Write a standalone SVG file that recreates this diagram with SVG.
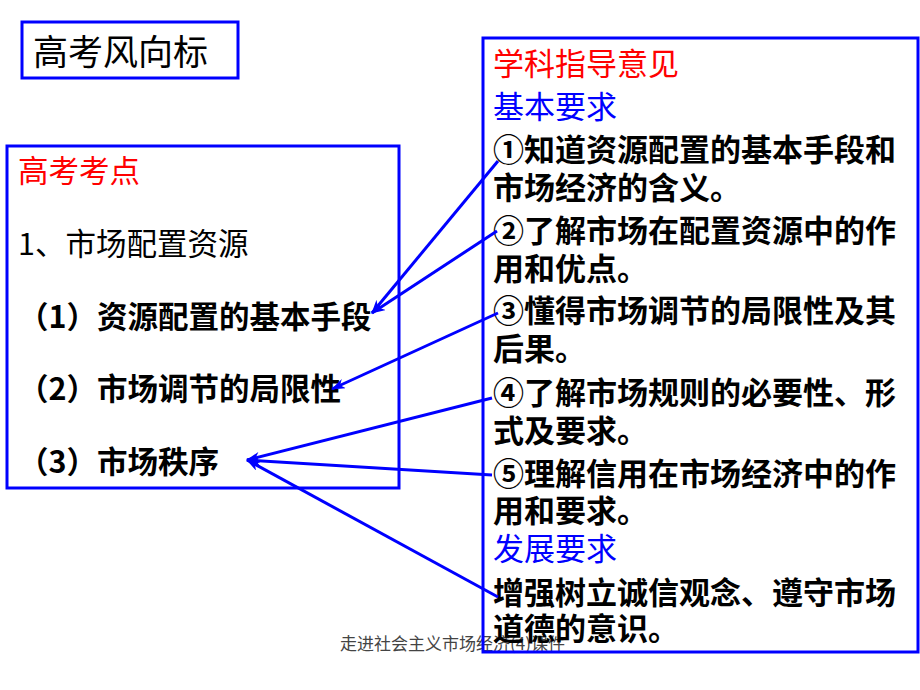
<svg xmlns="http://www.w3.org/2000/svg" width="920" height="690" viewBox="0 0 920 690">
<style>
.box{fill:none;stroke:#0000ff;stroke-width:3}
.t{font-family:"Noto Sans CJK SC","Liberation Sans",sans-serif;font-size:31px;fill:#000;font-weight:bold}
.l{font-size:30.5px}
.n{font-weight:normal}
.red{fill:#ff0000;font-weight:normal}
.blue{fill:#0000ff;font-weight:normal}
.title{font-family:"Noto Sans CJK SC","Liberation Sans",sans-serif;font-size:35px;fill:#000}
.foot{font-family:"Noto Sans CJK SC","Liberation Sans",sans-serif;font-size:17px;fill:#444}
.conn{stroke:#0000ff;stroke-width:3;fill:none;marker-end:url(#ah)}
</style>
<defs>
<marker id="ah" viewBox="0 0 14 10" refX="13" refY="5" markerWidth="14" markerHeight="10" markerUnits="userSpaceOnUse" orient="auto">
<path d="M0,0 L14,5 L0,10 L4,5 Z" fill="#0000ff"/>
</marker>
</defs>
<rect width="920" height="690" fill="#fff"/>
<text class="foot" x="340" y="650">走进社会主义市场经济(4)课件</text>
<g id="title">
<rect class="box" x="22" y="22" width="216" height="56"/>
<text class="title" x="33" y="65">高考风向标</text>
</g>
<g id="kaodian">
<rect class="box" x="7" y="146" width="392" height="342"/>
<text class="t l red" x="18" y="182">高考考点</text>
<text class="t l n" x="18" y="255">1、市场配置资源</text>
<text class="t l" x="18" y="328">（1）资源配置的基本手段</text>
<text class="t l" x="18" y="400">（2）市场调节的局限性</text>
<text class="t l" x="18" y="473">（3）市场秩序</text>
</g>
<g id="yijian">
<rect class="box" x="483" y="38" width="435" height="614"/>
<text class="t red" x="493" y="75">学科指导意见</text>
<text class="t blue" x="493" y="118">基本要求</text>
<text class="t" x="493" y="161">①知道资源配置的基本手段和</text>
<text class="t" x="493" y="199">市场经济的含义。</text>
<text class="t" x="493" y="242">②了解市场在配置资源中的作</text>
<text class="t" x="493" y="280">用和优点。</text>
<text class="t" x="493" y="322">③懂得市场调节的局限性及其</text>
<text class="t" x="493" y="360">后果。</text>
<text class="t" x="493" y="404">④了解市场规则的必要性、形</text>
<text class="t" x="493" y="442">式及要求。</text>
<text class="t" x="493" y="485">⑤理解信用在市场经济中的作</text>
<text class="t" x="493" y="522">用和要求。</text>
<text class="t blue" x="493" y="560">发展要求</text>
<text class="t" x="493" y="604">增强树立诚信观念、遵守市场</text>
<text class="t" x="493" y="640">道德的意识。</text>
</g>
<g id="connectors">
<line class="conn" x1="498" y1="161" x2="372" y2="313"/>
<line class="conn" x1="497" y1="231" x2="372" y2="313"/>
<line class="conn" x1="498" y1="313" x2="332" y2="389"/>
<line class="conn" x1="492" y1="398" x2="247" y2="460"/>
<line class="conn" x1="492" y1="475" x2="247" y2="460"/>
<line class="conn" x1="498" y1="597" x2="247" y2="460"/>
</g>
</svg>
